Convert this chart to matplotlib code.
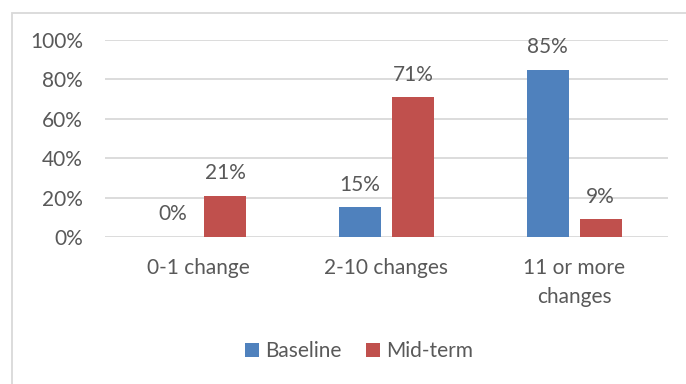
import matplotlib
matplotlib.use("Agg")
import matplotlib.pyplot as plt
from matplotlib.patches import Rectangle
import numpy as np

categories = ["0-1 change", "2-10 changes", "11 or more\nchanges"]
baseline = [0, 15, 85]
midterm = [21, 71, 9]
series_names = ["Baseline", "Mid-term"]
yticks = [0, 20, 40, 60, 80, 100]

plt.rcParams['font.family'] = ['Lato', 'DejaVu Sans']
txt = '#595959'
fs = 15
W, H = 686, 384
fig = plt.figure(figsize=(W/100, H/100), dpi=100)
fig.patch.set_facecolor('white')

# outer chart border (extends off right/bottom)
fig.patches.append(Rectangle((12/W, -0.1), 1.2, (H-13)/H + 0.1, transform=fig.transFigure,
                             fill=False, edgecolor='#D9D9D9', linewidth=1.3))

ax = fig.add_axes([105/W, 1-237/H, (668-105)/W, (237-40)/H])
x = np.arange(len(categories))
bw = 0.224
off = 0.141
b1 = ax.bar(x - off, baseline, bw, color='#4F81BD', label=series_names[0], zorder=3)
b2 = ax.bar(x + off, midterm, bw, color='#C0504D', label=series_names[1], zorder=3)

for bars, vals in ((b1, baseline), (b2, midterm)):
    for r, v in zip(bars, vals):
        ax.annotate(f"{v}%", (r.get_x() + r.get_width()/2, v), xytext=(0, 9),
                    textcoords='offset points', ha='center', va='bottom',
                    fontsize=fs, color=txt)

ax.set_xlim(-0.5, 2.5)
ax.set_ylim(0, 100)
ax.set_yticks(yticks)
ax.set_yticklabels([f"{t}%" for t in yticks])
ax.set_xticks(x)
ax.set_xticklabels(categories, linespacing=1.6)
ax.tick_params(axis='both', length=0, labelsize=fs, labelcolor=txt)
ax.tick_params(axis='y', pad=16)
ax.tick_params(axis='x', pad=15)
ax.grid(axis='y', color='#D9D9D9', linewidth=1.3, zorder=0)
for s in ax.spines.values():
    s.set_visible(False)

fig.legend(handles=[b1, b2], loc='center', bbox_to_anchor=(359/W, 1-351/H), ncol=2,
           frameon=False, fontsize=fs, labelcolor=txt, handlelength=0.65, handleheight=0.65,
           handletextpad=0.3, columnspacing=1.2)

fig.savefig("out.png", dpi=100)
